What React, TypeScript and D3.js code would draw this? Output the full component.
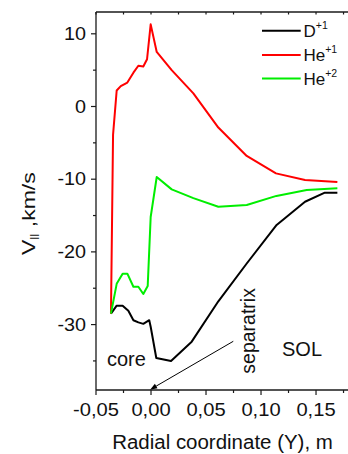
import React from "react";
import * as d3 from "d3";

// ---- data ----
const dX = [-0.0364, -0.0312, -0.0258, -0.0206, -0.016, -0.0115, -0.007, -0.0016, -0.0003, 0.0048, 0.0182, 0.037, 0.0612, 0.087, 0.1142, 0.14, 0.158, 0.1694];
const dY = [-28.5, -27.4, -27.4, -28.1, -29.4, -29.7, -29.9, -29.4, -30.3, -34.6, -35.0, -32.35, -26.8, -21.6, -16.3, -13.1, -11.85, -11.85];

const he1X = [-0.0364, -0.0345, -0.0312, -0.0275, -0.0215, -0.016, -0.0115, -0.007, -0.0036, -0.0003, 0.0052, 0.0188, 0.0385, 0.0612, 0.087, 0.1136, 0.14, 0.1694];
const he1Y = [-28.5, -3.9, 2.2, 2.8, 3.3, 4.65, 5.6, 5.5, 6.5, 11.3, 7.5, 5.0, 1.8, -2.9, -6.8, -9.2, -10.1, -10.4];

const he2X = [-0.0364, -0.0312, -0.0258, -0.0215, -0.016, -0.0115, -0.007, -0.003, -0.0003, 0.0052, 0.0188, 0.0385, 0.0612, 0.087, 0.114, 0.1415, 0.1694];
const he2Y = [-28.5, -24.4, -23.0, -23.0, -24.8, -24.8, -25.8, -24.7, -15.2, -9.7, -11.4, -12.6, -13.8, -13.55, -12.3, -11.5, -11.25];

const seriesNames = ["D", "He", "He"];
const seriesSups = ["+1", "+1", "+2"];
const seriesColors = ["#000000", "#ff0000", "#00ee00"];

const xTickValues = [-0.05, -0.025, 0, 0.025, 0.05, 0.075, 0.1, 0.125, 0.15, 0.175];
const xTickLabels = ["-0,05", "", "0,00", "", "0,05", "", "0,10", "", "0,15", ""];
const yTickValues = [-35, -30, -25, -20, -15, -10, -5, 0, 5, 10];
const yTickLabels = ["", "-30", "", "-20", "", "-10", "", "0", "", "10"];

const xTitle = "Radial coordinate (Y), m";

export default function App() {
  const W = 348, H = 454;
  const left = 96, top = 12, bottom = 390, right = 352;
  const x = d3.scaleLinear().domain([-0.05, 0.1827]).range([left, right]);
  const y = d3.scaleLinear().domain([-39, 13]).range([bottom, top]);
  const font = "'Liberation Sans', Arial, Helvetica, sans-serif";

  const series = [
    dX.map((v, i) => [v, dY[i]] as [number, number]),
    he1X.map((v, i) => [v, he1Y[i]] as [number, number]),
    he2X.map((v, i) => [v, he2Y[i]] as [number, number]),
  ];
  const line = d3.line<[number, number]>().x(d => x(d[0])).y(d => y(d[1]));

  const axisColor = "#1a1a1a";
  const legendY = [30.7, 55, 78.5];

  // annotation arrow (data coords)
  const arrowFrom = [0.0748, -32.3];
  const arrowTo = [-0.0008, -38.95];
  const ax1 = x(arrowFrom[0]), ay1 = y(arrowFrom[1]);
  const ax2 = x(arrowTo[0]), ay2 = y(arrowTo[1]);
  const ang = Math.atan2(ay2 - ay1, ax2 - ax1);
  const hl = 7, hw = 2.6;
  const bx = ax2 - hl * Math.cos(ang), by = ay2 - hl * Math.sin(ang);
  const head = `M${ax2},${ay2} L${bx + hw * Math.sin(ang)},${by - hw * Math.cos(ang)} L${bx - hw * Math.sin(ang)},${by + hw * Math.cos(ang)} Z`;

  return (
    <svg width={W} height={H} style={{ position: "absolute", left: 0, top: 0, background: "#fff" }} fontFamily={font}>
      {/* data lines */}
      {series.map((s, i) => (
        <path key={i} d={line(s) || ""} fill="none" stroke={seriesColors[i]} strokeWidth={2} strokeLinejoin="round" />
      ))}

      {/* frame */}
      <line x1={left} x2={right} y1={bottom} y2={bottom} stroke={axisColor} strokeWidth={1.3} />
      <line x1={left} x2={right} y1={top} y2={top} stroke={axisColor} strokeWidth={1.3} />
      <line x1={left} x2={left} y1={top} y2={bottom} stroke={axisColor} strokeWidth={1.3} />

      {/* x ticks */}
      {xTickValues.map((v, i) => {
        const px = x(v);
        const major = xTickLabels[i] !== "" || i % 2 === 0;
        return (
          <g key={"xt" + i}>
            <line x1={px} x2={px} y1={bottom} y2={bottom + (major ? 5 : 3)} stroke={axisColor} strokeWidth={1.2} />
            <line x1={px} x2={px} y1={top} y2={top + 2.5} stroke={axisColor} strokeWidth={1.2} />
            {xTickLabels[i] && (
              <text transform={`translate(${px},416) scale(1.12,1)`} textAnchor="middle" fontSize={18} fill="#111">
                {xTickLabels[i]}
              </text>
            )}
          </g>
        );
      })}

      {/* y ticks */}
      {yTickValues.map((v, i) => {
        const py = y(v);
        const major = v % 10 === 0;
        return (
          <g key={"yt" + i}>
            <line x1={left - (major ? 5 : 3)} x2={left} y1={py} y2={py} stroke={axisColor} strokeWidth={1.2} />
            {yTickLabels[i] && (
              <text transform={`translate(86,${py + 6.3}) scale(1.1,1)`} textAnchor="end" fontSize={18} fill="#111">
                {yTickLabels[i]}
              </text>
            )}
          </g>
        );
      })}

      {/* axis titles */}
      <text transform={`translate(222.5,449) scale(1.05,1)`} textAnchor="middle" fontSize={19.5} fill="#111">
        {xTitle}
      </text>
      <text transform="translate(35,255) rotate(-90) scale(1.28,1)" fontSize={18} fill="#111">
        V
        <tspan fontSize={9} dy={1.5}>||</tspan>
        <tspan dy={-1.5}> ,km/s</tspan>
      </text>

      {/* annotations */}
      <text x={107} y={366} fontSize={20} fill="#111">core</text>
      <text x={282} y={355.5} fontSize={20} fill="#111">SOL</text>
      <text transform="translate(254.5,373.7) rotate(-90)" fontSize={19.5} fill="#111">separatrix</text>
      <line x1={ax1} y1={ay1} x2={bx} y2={by} stroke="#000" strokeWidth={1} />
      <path d={head} fill="#000" />

      {/* legend */}
      {seriesNames.map((n, i) => (
        <g key={"lg" + i}>
          <line x1={262} x2={300.7} y1={legendY[i]} y2={legendY[i]} stroke={seriesColors[i]} strokeWidth={2} />
          <text x={303.5} y={legendY[i] + 6.2} fontSize={17} fill="#111">
            {n}
            <tspan fontSize={10.5} dy={-8}>{seriesSups[i]}</tspan>
          </text>
        </g>
      ))}
    </svg>
  );
}
